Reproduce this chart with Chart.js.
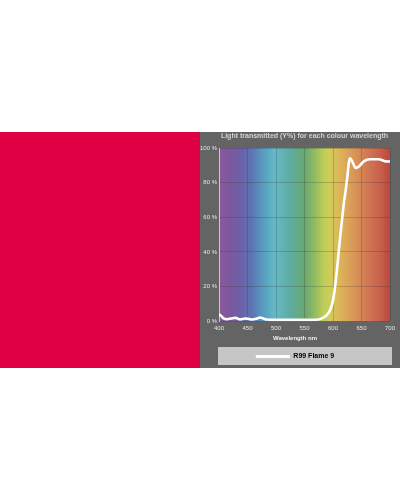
<!DOCTYPE html>
<html>
<head>
<meta charset="utf-8">
<script src="https://cdn.jsdelivr.net/npm/chart.js@4/dist/chart.umd.min.js"></script>
<style>
  html, body { margin: 0; padding: 0; background: #ffffff; width: 400px; height: 500px; overflow: hidden; }
  #swatch { position: absolute; left: 0; top: 132px; width: 200px; height: 236px; background: #e00046; }
  #panel { position: absolute; left: 200px; top: 132px; width: 200px; height: 236px; background: #646464; }
</style>
</head>
<body>
<div id="swatch"></div>
<div id="panel"><canvas id="c"></canvas></div>
<script>
// ---- data ----
const wavelengths = [400, 404, 408, 414, 421, 429, 437, 446, 452, 458, 466, 472, 478, 484, 495, 520, 550, 570, 578, 585, 590, 595, 600, 604, 607, 610, 613, 616, 619, 622, 625, 628, 630, 634, 640, 646, 654, 665, 680, 692, 700];
const transmission = [4.0, 3.0, 1.7, 1.2, 1.6, 2.0, 1.1, 1.6, 1.4, 1.0, 1.5, 2.2, 1.6, 1.0, 0.8, 0.8, 0.8, 0.9, 1.3, 2.5, 4.0, 6.5, 12, 21, 30, 40, 50, 59, 68, 75, 83, 92, 94, 92, 88.5, 89.5, 92.3, 93.5, 93.5, 92.3, 92.2];
const xTicks = [400, 450, 500, 550, 600, 650, 700];
const yTicks = [0, 20, 40, 60, 80, 100];
const seriesName = 'R99 Flame 9';
const chartTitle = 'Light transmitted (Y%) for each colour wavelength';
const xAxisTitle = 'Wavelength nm';

// ---- spectrum background (style) ----
const specStops = [400, 420, 440, 458, 475, 490, 498, 525, 551, 569, 583, 595, 613, 639, 657, 683, 700];
const specColors = ['#8a5a9c', '#7c589e', '#6a62aa', '#5c76b4', '#5898be', '#5cb0c4', '#66bac6', '#5eaca0', '#6aa870', '#94bc60', '#bccc58', '#d2cc58', '#dcb458', '#d89458', '#d47c54', '#c8604c', '#b8483c'];

const FONT = "'Liberation Sans', Arial, sans-serif";

const spectrumPlugin = {
  id: 'spectrum',
  beforeDraw(chart) {
    const { ctx, chartArea: a, scales } = chart;
    const x = scales.x;
    ctx.save();
    const x0 = x.getPixelForValue(400), x1 = x.getPixelForValue(700);
    const g = ctx.createLinearGradient(x0, 0, x1, 0);
    specStops.forEach((w, i) => g.addColorStop((w - 400) / 300, specColors[i]));
    ctx.fillStyle = g;
    ctx.fillRect(a.left, a.top, a.right - a.left, a.bottom - a.top);
    const L = chart.legend;
    ctx.fillStyle = '#c6c6c6';
    ctx.fillRect(a.left - 1, L.top, a.right - a.left + 3, L.bottom - L.top);
    ctx.restore();
  }
};

new Chart(document.getElementById('c'), {
  type: 'line',
  data: {
    datasets: [{
      label: seriesName,
      data: wavelengths.map((w, i) => ({ x: w, y: transmission[i] })),
      borderColor: '#ffffff',
      backgroundColor: '#ffffff',
      borderWidth: 2.6,
      pointRadius: 0,
      cubicInterpolationMode: 'monotone',
      fill: false
    }]
  },
  options: {
    responsive: true,
    maintainAspectRatio: false,
    animation: false,
    layout: { padding: { left: 0, right: 10, top: 0, bottom: 3 } },
    plugins: {
      tooltip: { enabled: false },
      title: {
        display: true,
        text: chartTitle,
        fullSize: false,
        color: '#d2d2d2',
        font: { family: FONT, size: 7, weight: 'bold' },
        padding: { top: 0, bottom: 7.6 }
      },
      subtitle: {
        display: true,
        text: xAxisTitle,
        position: 'bottom',
        weight: 500,
        color: '#f2f2f2',
        font: { family: FONT, size: 6, weight: 'bold' },
        padding: { top: 3.1, bottom: 5.4 }
      },
      legend: {
        display: true,
        position: 'bottom',
        maxHeight: 18,
        labels: {
          boxWidth: 34,
          boxHeight: 3,
          padding: 6,
          color: '#000000',
          font: { family: FONT, size: 7, weight: 'bold' },
          generateLabels(chart) {
            return Chart.defaults.plugins.legend.labels.generateLabels(chart).map(l => Object.assign(l, { lineWidth: 0, fillStyle: '#ffffff', strokeStyle: '#ffffff' }));
          }
        }
      }
    },
    scales: {
      x: {
        type: 'linear',
        min: 400,
        max: 700,
        afterBuildTicks(s) { s.ticks = xTicks.map(v => ({ value: v })); },
        ticks: { color: '#e6e6e6', font: { family: FONT, size: 6 }, padding: 3, maxRotation: 0, autoSkip: false },
        grid: { color: 'rgba(40,40,40,0.22)', lineWidth: 1, drawTicks: false },
        border: { display: false },
        afterFit(s) { s.height = 10; }
      },
      y: {
        min: 0,
        max: 100,
        afterBuildTicks(s) { s.ticks = yTicks.map(v => ({ value: v })); },
        ticks: { color: '#e6e6e6', font: { family: FONT, size: 6 }, padding: 2, callback: v => v + ' %' },
        grid: { color: 'rgba(40,40,40,0.22)', lineWidth: 1, drawTicks: false },
        border: { display: true, color: '#d8bce4', width: 1 },
        afterFit(s) { s.width = 19; }
      }
    }
  },
  plugins: [spectrumPlugin]
});
</script>
</body>
</html>
